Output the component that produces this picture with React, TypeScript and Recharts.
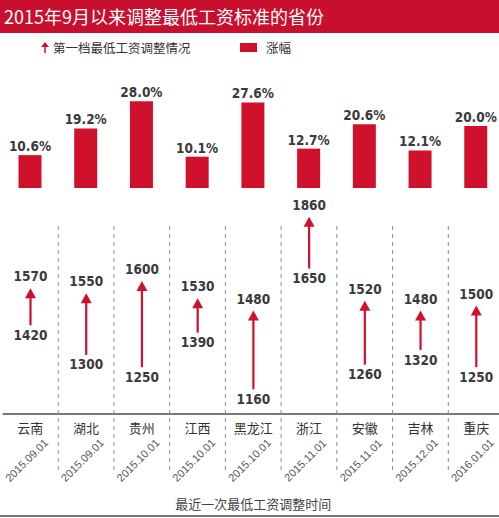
import { BarChart, Bar, ComposedChart, XAxis, YAxis, LabelList } from 'recharts'

const categories = ['云南', '湖北', '贵州', '江西', '黑龙江', '浙江', '安徽', '吉林', '重庆']
const adjustDates = ['2015.09.01', '2015.09.01', '2015.10.01', '2015.10.01', '2015.10.01', '2015.11.01', '2015.11.01', '2015.12.01', '2016.01.01']
const growthPct = [10.6, 19.2, 28.0, 10.1, 27.6, 12.7, 20.6, 12.1, 20.0]
const wageBefore = [1420, 1300, 1250, 1390, 1160, 1650, 1260, 1320, 1250]
const wageAfter = [1570, 1550, 1600, 1530, 1480, 1860, 1520, 1480, 1500]

const RED = '#d0112b'
const NUM_FONT = "'DejaVu Sans Condensed', sans-serif"
const CJK_FONT = "'Noto Sans CJK SC', sans-serif"

const barData = categories.map((name, i) => ({ name, growth: growthPct[i] }))
const wageData = categories.map((name, i) => ({
  name,
  date: adjustDates[i],
  low: wageBefore[i],
  high: wageAfter[i],
}))

const numStyle = { fontFamily: NUM_FONT, fontWeight: 700, fontSize: 13.5, fill: '#3a3a3a' }

const ArrowShape = (props: any) => {
  const { x, y, width, height } = props
  if (height == null || isNaN(height)) return null
  const cx = x + width / 2
  return (
    <g>
      <line x1={cx} x2={cx} y1={y + 8} y2={y + height} stroke={RED} strokeWidth={2.2} />
      <polygon points={`${cx},${y} ${cx - 5.5},${y + 10} ${cx + 5.5},${y + 10}`} fill={RED} />
    </g>
  )
}

const CategoryTick = (props: any) => {
  const { x, y, payload, index } = props
  const half = payload.offset || 0
  const dx = x - 1
  const dy = y + 49
  return (
    <g>
      {index < categories.length - 1 && (
        <line
          x1={x + half}
          x2={x + half}
          y1={y - 188}
          y2={y + 56}
          stroke="#8a8a8a"
          strokeWidth={1}
          strokeDasharray="4 4"
        />
      )}
      <text x={x} y={y + 19} textAnchor="middle" fontSize={13} fill="#333" fontFamily={CJK_FONT}>
        {payload.value}
      </text>
      <text
        x={dx}
        y={dy}
        textAnchor="middle"
        fontSize={11}
        fill="#555"
        fontFamily="'Liberation Sans', sans-serif"
        transform={`rotate(-45 ${dx} ${dy})`}
      >
        {wageData[index]?.date}
      </text>
    </g>
  )
}

export default function App() {
  return (
    <div
      style={{
        position: 'absolute',
        left: 0,
        top: 0,
        width: 499,
        height: 518,
        overflow: 'hidden',
        background: '#fff',
        fontFamily: CJK_FONT,
      }}
    >
      {/* title bar */}
      <div
        style={{
          position: 'absolute',
          left: 0,
          top: 0,
          width: 499,
          height: 33,
          background: '#c8102e',
          color: '#fff',
          fontSize: 18,
          lineHeight: '33px',
          paddingLeft: 4,
          boxSizing: 'border-box',
          whiteSpace: 'nowrap',
        }}
      >
        2015年9月以来调整最低工资标准的省份
      </div>

      {/* legend */}
      <div style={{ position: 'absolute', left: 40, top: 38, height: 18, display: 'flex', alignItems: 'center', fontSize: 12.5, color: '#333' }}>
        <svg width={10} height={12} style={{ marginRight: 3 }}>
          <polygon points="5,1 1,6 9,6" fill={RED} />
          <line x1={5} x2={5} y1={5} y2={12} stroke={RED} strokeWidth={1.5} />
        </svg>
        <span>第一档最低工资调整情况</span>
      </div>
      <div style={{ position: 'absolute', left: 240, top: 38, height: 18, display: 'flex', alignItems: 'center', fontSize: 12.5, color: '#333' }}>
        <div style={{ width: 17, height: 9, background: RED, marginRight: 9 }} />
        <span>涨幅</span>
      </div>

      {/* growth bars */}
      <div style={{ position: 'absolute', left: 0, top: 60 }}>
        <BarChart width={504} height={130} data={barData} margin={{ top: 35, right: 0, left: 2.5, bottom: 2 }}>
          <XAxis dataKey="name" tick={false} tickLine={false} height={0} axisLine={{ stroke: '#8a8a8a', strokeWidth: 1.5 }} />
          <YAxis hide domain={[0, 30]} />
          <Bar dataKey="growth" fill={RED} barSize={23} isAnimationActive={false}>
            <LabelList
              dataKey="growth"
              position="top"
              offset={4}
              formatter={(v: any) => `${Number(v).toFixed(1)}%`}
              style={numStyle}
            />
          </Bar>
        </BarChart>
      </div>

      {/* wage arrows */}
      <div style={{ position: 'absolute', left: 0, top: 190 }}>
        <ComposedChart width={504} height={328} data={wageData} margin={{ top: 17, right: 0, left: 2.5, bottom: 0 }}>
          <XAxis
            dataKey="name"
            height={104}
            tickLine={false}
            tickSize={0}
            tickMargin={0}
            interval={0}
            axisLine={{ stroke: '#7a7a7a', strokeWidth: 2 }}
            tick={<CategoryTick />}
            label={{
              value: '最近一次最低工资调整时间',
              position: 'insideBottom',
              offset: 9,
              style: { fontFamily: CJK_FONT, fontSize: 13, fill: '#444' },
            }}
          />
          <YAxis hide type="number" domain={[1060, 1900]} allowDataOverflow />
          <Bar
            dataKey={(d: any) => [d.low, d.high]}
            barSize={12}
            shape={<ArrowShape />}
            isAnimationActive={false}
          >
            <LabelList dataKey="high" position="top" offset={7} style={numStyle} />
            <LabelList dataKey="low" position="bottom" offset={5} style={numStyle} />
          </Bar>
        </ComposedChart>
      </div>

      {/* bottom rule */}
      <div style={{ position: 'absolute', left: 0, top: 515, width: 499, height: 2, background: '#7a7a7a' }} />
    </div>
  )
}
